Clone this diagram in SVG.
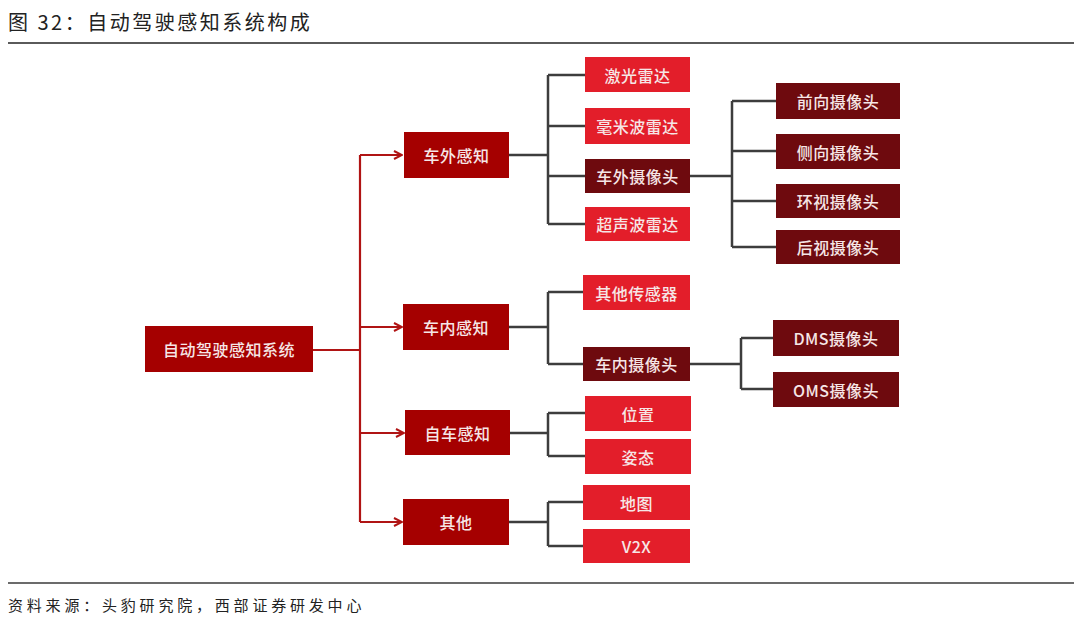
<svg xmlns="http://www.w3.org/2000/svg" width="1080" height="625" viewBox="0 0 1080 625">
<defs>
<style>
.cap{font-family:"Noto Sans CJK SC","Liberation Sans",sans-serif;fill:#222;}
.lbl{font-family:"Noto Sans CJK SC","Liberation Sans",sans-serif;font-size:16px;fill:#f6e6e6;text-anchor:middle;dominant-baseline:central;letter-spacing:0.5px;font-weight:500;}
.l1{fill:#a50000;}
.l2{fill:#e31e2a;}
.l3{fill:#6e0a0e;}
.gray{fill:none;stroke:#3d3d3d;stroke-width:2.5;}
.red{fill:none;stroke:#b01414;stroke-width:2.2;}
</style>
<marker id="arr" viewBox="0 0 10 10" refX="9" refY="5" markerWidth="10" markerHeight="10" markerUnits="userSpaceOnUse" orient="auto">
<polyline points="1,1 9,5 1,9" fill="none" stroke="#b01414" stroke-width="2"/>
</marker>
</defs>
<rect width="1080" height="625" fill="#ffffff"/>
<text class="cap" x="8" y="30" font-size="20" letter-spacing="2.5">图 32：自动驾驶感知系统构成</text>
<line x1="8" y1="43" x2="1074" y2="43" stroke="#5a5a5a" stroke-width="2"/>
<line x1="8" y1="583" x2="1074" y2="583" stroke="#3a3a3a" stroke-width="1.5"/>
<text class="cap" x="8" y="611" font-size="15" letter-spacing="3.8">资料来源：头豹研究院，西部证券研发中心</text>

<g id="connectors">
<path class="red" d="M312,350 H360"/>
<path class="red" d="M360,155 V522"/>
<path class="red" d="M360,155 H402" marker-end="url(#arr)"/>
<path class="red" d="M360,327 H402" marker-end="url(#arr)"/>
<path class="red" d="M360,433 H404" marker-end="url(#arr)"/>
<path class="red" d="M360,522 H402" marker-end="url(#arr)"/>
<path class="gray" d="M509,155 H548 M548,75 V224 M548,75 H585 M548,126 H585 M548,176 H585 M548,224 H585"/>
<path class="gray" d="M690,176 H732 M732,101 V247 M732,101 H776 M732,151 H776 M732,201 H776 M732,247 H776"/>
<path class="gray" d="M509,327 H548 M548,292 V364 M548,292 H583 M548,364 H583"/>
<path class="gray" d="M690,364 H741 M741,338 V389 M741,338 H773 M741,389 H773"/>
<path class="gray" d="M510,433 H548 M548,413 V456 M548,413 H585 M548,456 H585"/>
<path class="gray" d="M509,522 H548 M548,502 V546 M548,502 H583 M548,546 H583"/>
</g>

<g id="n-root"><rect class="l1" x="145" y="326" width="168" height="46"/><text class="lbl" x="229" y="349">自动驾驶感知系统</text></g>
<g id="n-outside"><rect class="l1" x="404" y="132" width="105" height="46"/><text class="lbl" x="456.5" y="155">车外感知</text></g>
<g id="n-inside"><rect class="l1" x="403" y="304" width="106" height="46"/><text class="lbl" x="456" y="327">车内感知</text></g>
<g id="n-self"><rect class="l1" x="405" y="410" width="105" height="45"/><text class="lbl" x="457.5" y="432.5">自车感知</text></g>
<g id="n-other"><rect class="l1" x="403" y="499" width="106" height="46"/><text class="lbl" x="456" y="522">其他</text></g>

<g id="n-lidar"><rect class="l2" x="585" y="57" width="105" height="35"/><text class="lbl" x="637.5" y="74.5">激光雷达</text></g>
<g id="n-mmw"><rect class="l2" x="585" y="108" width="105" height="36"/><text class="lbl" x="637.5" y="126">毫米波雷达</text></g>
<g id="n-extcam"><rect class="l3" x="585" y="159" width="105" height="34"/><text class="lbl" x="637.5" y="176">车外摄像头</text></g>
<g id="n-ultra"><rect class="l2" x="585" y="207" width="105" height="34"/><text class="lbl" x="637.5" y="224">超声波雷达</text></g>

<g id="n-front"><rect class="l3" x="776" y="83" width="124" height="36"/><text class="lbl" x="838" y="101">前向摄像头</text></g>
<g id="n-side"><rect class="l3" x="776" y="134" width="124" height="35"/><text class="lbl" x="838" y="151.5">侧向摄像头</text></g>
<g id="n-surround"><rect class="l3" x="776" y="184" width="124" height="34"/><text class="lbl" x="838" y="201">环视摄像头</text></g>
<g id="n-rear"><rect class="l3" x="776" y="230" width="124" height="34"/><text class="lbl" x="838" y="247">后视摄像头</text></g>

<g id="n-othersensor"><rect class="l2" x="583" y="275" width="107" height="35"/><text class="lbl" x="636.5" y="292.5">其他传感器</text></g>
<g id="n-incam"><rect class="l3" x="583" y="347" width="107" height="34"/><text class="lbl" x="636.5" y="364">车内摄像头</text></g>
<g id="n-dms"><rect class="l3" x="773" y="320" width="126" height="36"/><text class="lbl" x="836" y="338">DMS摄像头</text></g>
<g id="n-oms"><rect class="l3" x="773" y="372" width="126" height="35"/><text class="lbl" x="836" y="389.5">OMS摄像头</text></g>

<g id="n-pos"><rect class="l2" x="585" y="396" width="106" height="35"/><text class="lbl" x="638" y="413.5">位置</text></g>
<g id="n-att"><rect class="l2" x="585" y="439" width="106" height="35"/><text class="lbl" x="638" y="456.5">姿态</text></g>
<g id="n-map"><rect class="l2" x="583" y="485" width="107" height="35"/><text class="lbl" x="636.5" y="502.5">地图</text></g>
<g id="n-v2x"><rect class="l2" x="583" y="529" width="107" height="34"/><text class="lbl" x="636.5" y="546">V2X</text></g>
</svg>
